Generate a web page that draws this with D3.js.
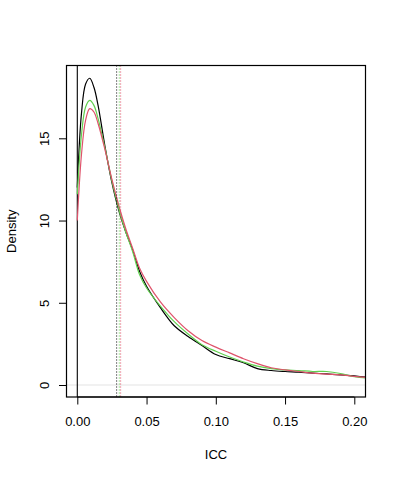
<!DOCTYPE html>
<html>
<head>
<meta charset="utf-8">
<script src="https://cdn.jsdelivr.net/npm/d3@7"></script>
<style>
  body { margin: 0; background: #fff; }
  text { font-family: "Liberation Sans", Arial, sans-serif; font-size: 13px; fill: #000; }
</style>
</head>
<body>
<svg id="chart" width="399" height="480"></svg>
<script>
// density estimates
var xGrid = [0, 0.003, 0.006, 0.009, 0.012, 0.015, 0.02, 0.025, 0.03, 0.035, 0.04, 0.045, 0.05,
             0.06, 0.07, 0.08, 0.09, 0.1, 0.11, 0.12, 0.13, 0.14, 0.15, 0.16, 0.17, 0.18, 0.19, 0.2, 0.21];
var blackDens = [12.0, 16.5, 18.3, 18.65, 18.1, 17.0, 14.5, 12.3, 10.6, 9.3, 8.2, 6.9, 6.0,
                 4.7, 3.6, 2.95, 2.4, 1.85, 1.6, 1.35, 1.0, 0.88, 0.82, 0.78, 0.72, 0.68, 0.62, 0.55, 0.47];
var greenDens = [11.6, 15.2, 16.9, 17.3, 17.0, 16.2, 14.4, 12.4, 10.7, 9.3, 8.1, 6.7, 5.9,
                 4.8, 3.85, 3.1, 2.45, 2.05, 1.7, 1.4, 1.15, 1.0, 0.92, 0.88, 0.82, 0.82, 0.7, 0.5, 0.42];
var redDens = [10.0, 14.0, 16.1, 16.8, 16.6, 15.9, 14.3, 12.5, 10.9, 9.5, 8.3, 7.1, 6.3,
               5.05, 4.1, 3.3, 2.7, 2.3, 1.95, 1.6, 1.3, 1.05, 0.92, 0.82, 0.72, 0.66, 0.62, 0.52, 0.45];
var seriesColors = ["#000000", "#61D04F", "#DF536B"];
// vertical reference lines (dotted) per series
var refLines = [0.0284, 0.0303, 0.0313];
var xTicks = [0, 0.05, 0.1, 0.15, 0.2];
var yTicks = [0, 5, 10, 15];

var svg = d3.select("#chart");
var pLeft = 66.5, pRight = 365.5, pTop = 65.5, pBottom = 397;

var x = d3.scaleLinear().domain([0, 0.2]).range([77.3, 354.3]);
var y = d3.scaleLinear().domain([0, 15]).range([385, 138.3]);

var plot = svg.append("g");

// clip to plot region
svg.append("defs").append("clipPath").attr("id", "clip")
  .append("rect").attr("x", pLeft).attr("y", pTop).attr("width", pRight - pLeft).attr("height", pBottom - pTop);
var inner = plot.append("g").attr("clip-path", "url(#clip)");

// horizontal zero line
inner.append("line")
  .attr("x1", pLeft).attr("x2", pRight).attr("y1", y(0)).attr("y2", y(0))
  .attr("stroke", "#e3e3e3").attr("stroke-width", 1);

// vertical line at 0
inner.append("line")
  .attr("x1", x(0)).attr("x2", x(0)).attr("y1", pTop).attr("y2", pBottom)
  .attr("stroke", "#000").attr("stroke-width", 1.1);

var line = d3.line()
  .x(function(d) { return x(d[0]); })
  .y(function(d) { return y(d[1]); })
  .curve(d3.curveCatmullRom.alpha(0.5));

[blackDens, greenDens, redDens].forEach(function(vals, i) {
  inner.append("path")
    .datum(xGrid.map(function(v, j) { return [v, vals[j]]; }))
    .attr("fill", "none")
    .attr("stroke", seriesColors[i])
    .attr("stroke-width", 1.2)
    .attr("d", line);
});

refLines.forEach(function(v, i) {
  inner.append("line")
    .attr("x1", x(v)).attr("x2", x(v)).attr("y1", pTop).attr("y2", pBottom)
    .attr("stroke", seriesColors[i]).attr("stroke-width", 1)
    .attr("stroke-dasharray", "1,2");
});

// box
plot.append("rect")
  .attr("x", pLeft).attr("y", pTop).attr("width", pRight - pLeft).attr("height", pBottom - pTop)
  .attr("fill", "none").attr("stroke", "#000").attr("stroke-width", 1.2);

// x axis
var xAxis = d3.axisBottom(x).tickValues(xTicks).tickSize(7.5).tickPadding(12)
  .tickFormat(d3.format(".2f"));
var gx = svg.append("g").attr("transform", "translate(0," + pBottom + ")").call(xAxis);
gx.attr("font-size", 13).attr("font-family", "Liberation Sans, Arial, sans-serif");
gx.select(".domain").attr("d", "M" + x(0) + ",0H" + x(0.2));

// y axis
var yAxis = d3.axisLeft(y).tickValues(yTicks).tickSize(7.5).tickFormat(d3.format("d"));
var gy = svg.append("g").attr("transform", "translate(" + pLeft + ",0)").call(yAxis);
gy.attr("font-size", 13).attr("font-family", "Liberation Sans, Arial, sans-serif");
gy.select(".domain").attr("d", "M0," + y(0) + "V" + y(15));
gy.selectAll(".tick text")
  .attr("x", 0).attr("dy", null)
  .attr("text-anchor", "middle")
  .attr("transform", "translate(-17.5,0) rotate(-90)");

// axis titles
svg.append("text")
  .attr("x", (pLeft + pRight) / 2).attr("y", 459)
  .attr("text-anchor", "middle")
  .text("ICC");
svg.append("text")
  .attr("transform", "translate(15.5," + ((pTop + pBottom) / 2) + ") rotate(-90)")
  .attr("text-anchor", "middle")
  .text("Density");
</script>
</body>
</html>
